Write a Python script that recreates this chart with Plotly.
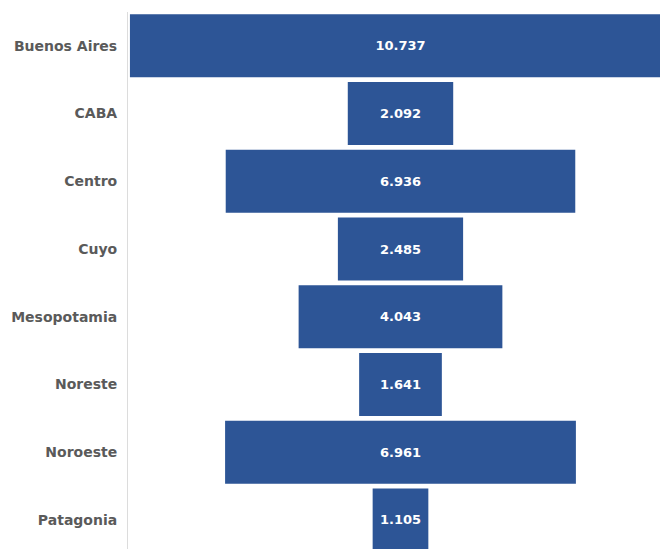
import plotly.graph_objects as go

regions = ["Buenos Aires", "CABA", "Centro", "Cuyo", "Mesopotamia",
           "Noreste", "Noroeste", "Patagonia"]
values = [10737, 2092, 6936, 2485, 4043, 1641, 6961, 1105]

bar_color = "#2d5596"

fig = go.Figure(go.Funnel(
    y=regions,
    x=values,
    marker=dict(color=bar_color, line=dict(width=0)),
    connector=dict(visible=False),
    texttemplate="%{x:,}",
    textposition="inside",
    insidetextanchor="middle",
    textfont=dict(family="DejaVu Sans", size=13, color="white", weight="bold"),
    hoverinfo="none",
))

fig.update_layout(
    width=660, height=541,
    margin=dict(l=120, r=0, t=4, b=0),
    paper_bgcolor="white", plot_bgcolor="white",
    separators=",.",
    funnelgap=0.07,
    showlegend=False,
    xaxis=dict(visible=False, range=[-5407, 5308], autorange=False, fixedrange=True),
    yaxis=dict(
        range=[7.43, -0.5], autorange=False,
        showline=True, linecolor="#dcdcdc", linewidth=1,
        showgrid=False, zeroline=False, ticks="",
        ticklabelstandoff=7,
        tickfont=dict(family="DejaVu Sans", size=14, color="#5a5a5a", weight="bold"),
    ),
)

fig.write_html("out.html")
